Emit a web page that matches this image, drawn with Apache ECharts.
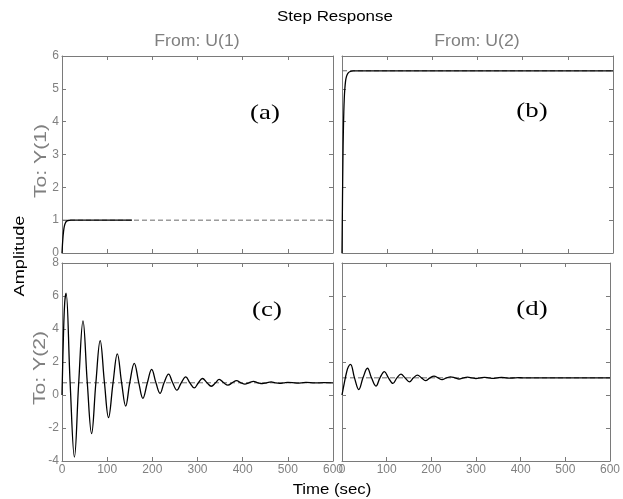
<!DOCTYPE html>
<html>
<head>
<meta charset="utf-8">
<script src="https://cdn.jsdelivr.net/npm/echarts@6/dist/echarts.min.js"></script>
<style>html,body{margin:0;padding:0;background:#fff}#c{width:623px;height:499px}</style>
</head>
<body>
<div id="c"></div>
<script>
// (a) From U(1) To Y(1)
const aTime = [0, 1, 2, 3, 4, 5, 6, 8, 10, 13, 20, 155];
const aVal  = [0, 0.25, 0.45, 0.6, 0.72, 0.8, 0.86, 0.93, 0.97, 0.99, 1.0, 1.0];
const aSteady = 1.0;
// (b) From U(2) To Y(1)
const bTime = [0, 1, 2, 3, 4, 5, 6, 8, 10, 13, 17, 25, 600];
const bVal  = [0, 1.5, 2.8, 3.7, 4.3, 4.7, 4.95, 5.25, 5.38, 5.47, 5.52, 5.55, 5.55];
const bSteady = 5.55;
// (c) From U(1) To Y(2)
const cTime = [0, 3, 6, 9, 18, 27.5, 37, 46.5, 56, 65.5, 75, 84.5, 94, 103, 113, 122.5, 132, 141, 150, 160, 170, 179, 189, 198.5, 208, 217, 226, 236, 245, 254.5, 264, 274, 283, 293, 302, 311, 321, 330.5, 340, 348, 358, 367.5, 377, 386.5, 396, 405, 414, 424, 434, 443.5, 453, 463, 472, 482, 491, 500, 520, 540, 560, 580, 600];
const cVal  = [0, 3.4, 5.6, 6.18, 0.74, -3.76, 0.74, 4.49, 0.74, -2.34, 0.74, 3.3, 0.74, -1.37, 0.74, 2.49, 0.74, -0.67, 0.74, 1.92, 0.74, -0.2, 0.74, 1.55, 0.74, 0.1, 0.74, 1.26, 0.74, 0.29, 0.74, 1.1, 0.74, 0.43, 0.74, 1.0, 0.74, 0.53, 0.74, 0.95, 0.74, 0.6, 0.74, 0.87, 0.74, 0.66, 0.74, 0.82, 0.74, 0.69, 0.74, 0.8, 0.74, 0.71, 0.74, 0.77, 0.72, 0.76, 0.73, 0.75, 0.74];
const cSteady = 0.74;
// (d) From U(2) To Y(2)
const dTime = [0, 5, 10, 14, 19, 28, 37.6, 47, 57, 66, 76, 85, 95, 104, 114, 123, 132, 141, 151, 160, 169, 178, 187, 197, 206, 215, 224, 234, 243, 253, 262, 272, 281, 291, 300, 310, 319, 329, 338, 348, 357, 367, 376, 386, 395, 405, 420, 600];
const dVal  = [0, 0.7, 1.35, 1.7, 1.86, 1.04, 0.33, 1.04, 1.62, 1.04, 0.54, 1.04, 1.42, 1.04, 0.7, 1.04, 1.26, 1.04, 0.8, 1.04, 1.2, 1.04, 0.87, 1.04, 1.15, 1.04, 0.93, 1.04, 1.1, 1.04, 0.97, 1.04, 1.08, 1.04, 1.0, 1.04, 1.07, 1.04, 1.01, 1.04, 1.06, 1.04, 1.02, 1.04, 1.05, 1.04, 1.04, 1.04];
const dSteady = 1.04;

const xTicks = [0, 100, 200, 300, 400, 500, 600];
const topY = {min: 0, max: 6, interval: 1};
const botY = {min: -4, max: 8, interval: 2};
const panelLabels = ['(a)', '(b)', '(c)', '(d)'];
const colTitles = ['From: U(1)', 'From: U(2)'];
const rowTitles = ['To: Y(1)', 'To: Y(2)'];

const gray = '#808080';
const boxColor = '#7a7a7a';
const grids = [
  {left: 62, top: 56, width: 271, height: 197},
  {left: 342, top: 56, width: 271, height: 197},
  {left: 62, top: 263, width: 271, height: 198},
  {left: 342, top: 263, width: 271, height: 198}
];
const xAxes = [], yAxes = [];
grids.forEach((g, i) => {
  const bottomRow = i >= 2, leftCol = (i % 2) === 0;
  const yr = bottomRow ? botY : topY;
  const base = {
    type: 'value', gridIndex: i, min: xTicks[0], max: xTicks[xTicks.length - 1], interval: xTicks[1] - xTicks[0],
    splitLine: {show: false},
    axisLine: {show: true, onZero: false, lineStyle: {color: boxColor, width: 1}},
    axisTick: {show: true, inside: true, length: 4, lineStyle: {color: boxColor}}
  };
  xAxes.push(Object.assign({}, base, {position: 'bottom',
    axisLabel: {show: bottomRow, color: gray, fontSize: 12, fontFamily: 'Liberation Sans', margin: 3}}));
  xAxes.push(Object.assign({}, base, {position: 'top', axisLabel: {show: false}}));
  const ybase = {
    type: 'value', gridIndex: i, min: yr.min, max: yr.max, interval: yr.interval,
    splitLine: {show: false},
    axisLine: {show: true, onZero: false, lineStyle: {color: boxColor, width: 1}},
    axisTick: {show: true, inside: true, length: 4, lineStyle: {color: boxColor}}
  };
  yAxes.push(Object.assign({}, ybase, {position: 'left',
    axisLabel: {show: leftCol, color: gray, fontSize: 12, fontFamily: 'Liberation Sans', margin: 3}}));
  yAxes.push(Object.assign({}, ybase, {position: 'right', axisLabel: {show: false}}));
});

const sets = [[aTime, aVal, aSteady], [bTime, bVal, bSteady], [cTime, cVal, cSteady], [dTime, dVal, dSteady]];
const series = [];
sets.forEach((s, i) => {
  series.push({
    type: 'line', xAxisIndex: i * 2, yAxisIndex: i * 2,
    data: [[xTicks[0], s[2]], [xTicks[xTicks.length - 1], s[2]]],
    showSymbol: false, silent: true, z: 1,
    lineStyle: {color: '#6a6a6a', width: 1, type: [5, 3]}
  });
  series.push({
    type: 'line', xAxisIndex: i * 2, yAxisIndex: i * 2,
    data: s[0].map((t, k) => [t, s[1][k]]),
    smooth: 0.4, showSymbol: false, silent: true, z: 3,
    lineStyle: {color: '#000', width: 1.3}
  });
});

function txt(t, x, y, font, fill, rot, sx) {
  return {type: 'text', x: x, y: y, rotation: rot || 0, scaleX: sx || 1,
    style: {text: t, fill: fill, font: font, textAlign: 'center', textVerticalAlign: 'middle'}};
}
const labelPos = [[265, 113], [532, 111], [267, 310], [532, 309]];
const graphic = [];
panelLabels.forEach((t, i) => graphic.push(txt(t, labelPos[i][0], labelPos[i][1], '22px "Liberation Serif"', '#000', 0, 1.22)));
graphic.push(txt('Step Response', 335, 17, '15px "Liberation Sans"', '#000', 0, 1.13));
graphic.push(txt(colTitles[0], 197, 41, '17px "Liberation Sans"', gray, 0, 1.04));
graphic.push(txt(colTitles[1], 477, 41, '17px "Liberation Sans"', gray, 0, 1.04));
graphic.push(txt(rowTitles[0], 42, 161, '16px "Liberation Sans"', gray, Math.PI / 2, 1.32));
graphic.push(txt(rowTitles[1], 41, 368, '16px "Liberation Sans"', gray, Math.PI / 2, 1.32));
graphic.push(txt('Amplitude', 20, 256, '14px "Liberation Sans"', '#000', Math.PI / 2, 1.3));
graphic.push(txt('Time (sec)', 332, 490, '15px "Liberation Sans"', '#000', 0, 1.12));

const chart = echarts.init(document.getElementById('c'), null, {renderer: 'canvas'});
chart.setOption({
  animation: false,
  backgroundColor: '#fff',
  grid: grids,
  xAxis: xAxes,
  yAxis: yAxes,
  series: series,
  graphic: graphic
});
</script>
</body>
</html>
